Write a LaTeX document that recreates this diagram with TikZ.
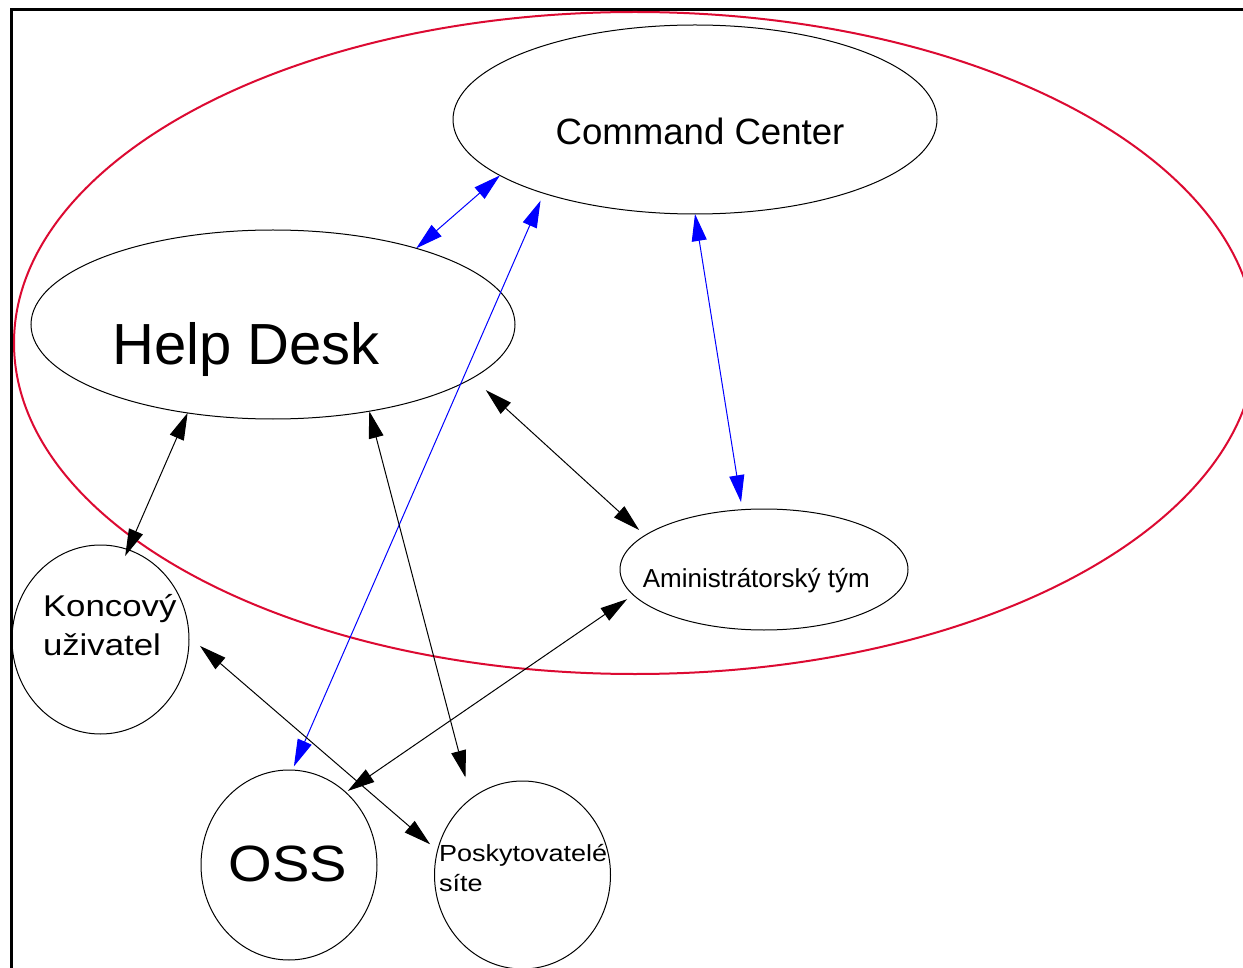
\documentclass[tikz,border=0pt]{standalone}
\usepackage{fontspec}
\setmainfont{Liberation Sans}
\usetikzlibrary{shapes.geometric,arrows.meta}
\definecolor{redring}{RGB}{220,10,50}
\definecolor{linkblue}{RGB}{0,0,255}
\begin{document}
\begin{tikzpicture}[x=1pt,y=-1pt,
  oval/.style={draw=black, line width=1pt, ellipse, inner sep=0pt, outer sep=0pt},
  lbl/.style={inner sep=0pt, outer sep=0pt, text=black},
  link/.style={line width=1pt, {Triangle[length=27pt,width=15pt]}-{Triangle[length=27pt,width=15pt]}}
  ]
\useasboundingbox (0,0) rectangle (1243,968);
\clip (0,0) rectangle (1243,968);
\fill[white] (0,0) rectangle (1243,968);
\draw[line width=2.5pt] (11.5,9.5) rectangle (1300,1000);
\draw[redring, line width=2pt] (635,343) ellipse [x radius=621pt, y radius=331pt];

\node[oval, minimum width=484pt, minimum height=189pt] (cc) at (695,119.5) {};
\node[oval, minimum width=484pt, minimum height=189pt] (hd) at (273,324.5) {};
\node[oval, minimum width=288pt, minimum height=121pt] (adm) at (764,569.5) {};
\node[oval, minimum width=177pt, minimum height=189pt] (ku) at (100.5,639.5) {};
\node[oval, minimum width=176pt, minimum height=190pt] (oss) at (289,865) {};
\node[oval, minimum width=176pt, minimum height=188pt] (ps) at (522.5,875) {};

\node[lbl, anchor=base, font=\fontsize{36.6}{36.6}\selectfont] (cct) at (700,144.3) {Command Center};
\node[lbl, anchor=base, font=\fontsize{58}{58}\selectfont] (hdt) at (246,365) {Help Desk};
\node[lbl, anchor=base, font=\fontsize{26}{26}\selectfont] (admt) at (756.3,587.3) {Aministrátorský tým};
\node[lbl, anchor=base west, font=\fontsize{30}{30}\selectfont] (kut1) at (43,616) {\scalebox{1.16}[1]{Koncový}};
\node[lbl, anchor=base west, font=\fontsize{30}{30}\selectfont] (kut2) at (43,655) {\scalebox{1.16}[1]{uživatel}};
\node[lbl, anchor=base, font=\fontsize{51}{51}\selectfont] (osst) at (288,881.7) {\scalebox{1.1}[1]{OSS}};
\node[lbl, anchor=base west, font=\fontsize{23.3}{23.3}\selectfont] (pst1) at (439,861.7) {\scalebox{1.16}[1]{Poskytovatelé}};
\node[lbl, anchor=base west, font=\fontsize{23.3}{23.3}\selectfont] (pst2) at (439,891.7) {\scalebox{1.16}[1]{síte}};

\draw[link, linkblue] (hd.28) -- (cc.196);
\draw[link, linkblue, shorten <=4pt, shorten >=8pt] (oss.88.6) -- (cc.206.8);
\draw[link, linkblue, shorten >=7.6pt] (cc.270) -- (adm.110);
\draw[link, shorten >=-7pt] (hd.226) -- (ku.73.6);
\draw[link, shorten >=22pt] (hd.318) -- (ps.124.5);
\draw[link, shorten <=18pt, shorten >=8pt] (hd.-15) -- (adm.164.8);
\draw[link, shorten <=7.5pt, shorten >=2.5pt] (adm.191.5) -- (oss.52.8);
\draw[link, shorten <=14.5pt, shorten >=9.7pt] (ku.2) -- (ps.164.5);
\end{tikzpicture}
\end{document}
